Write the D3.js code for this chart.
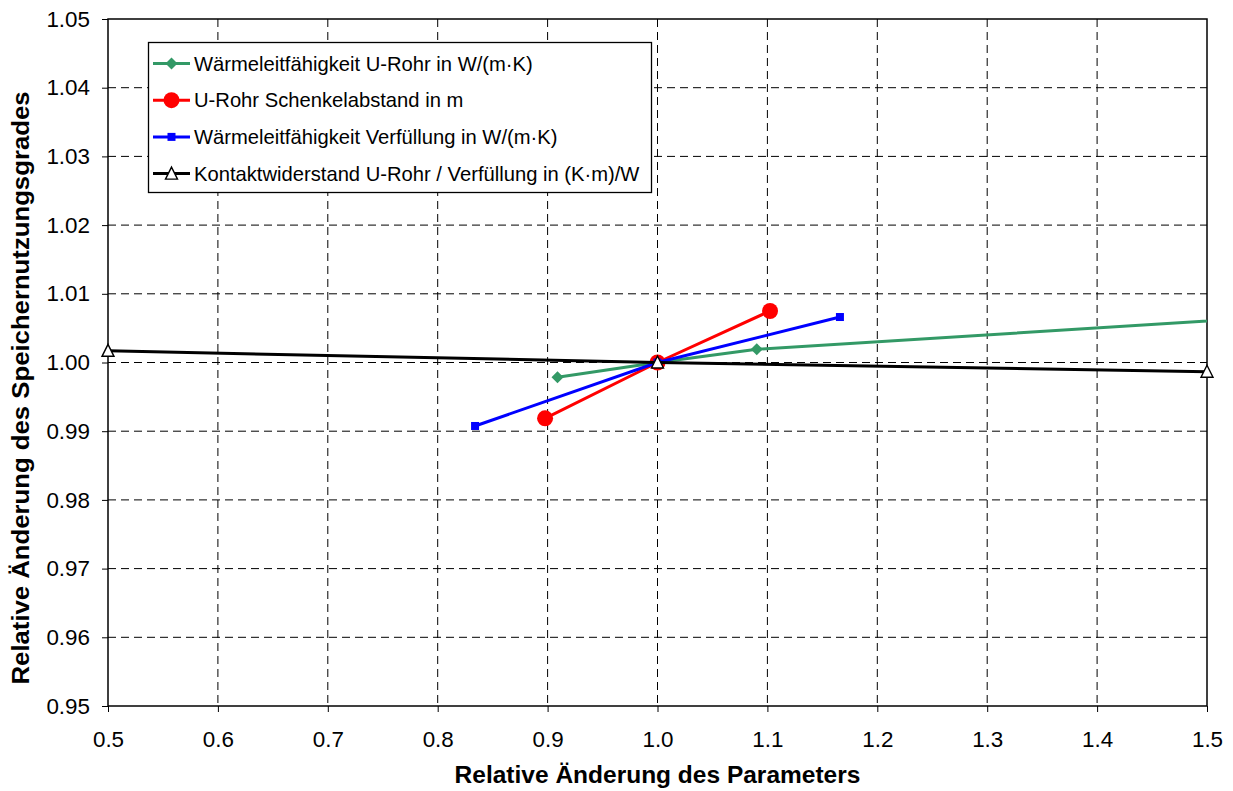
<!DOCTYPE html>
<html>
<head>
<meta charset="utf-8">
<script src="https://cdn.jsdelivr.net/npm/d3@7"></script>
<style>
  body { margin: 0; background: #fff; }
  svg { font-family: "Liberation Sans", Arial, sans-serif; }
</style>
</head>
<body>
<svg id="chart" width="1233" height="791"></svg>
<script>
// series values (x = relative change of parameter, y = relative change of storage efficiency)
const urohrX = [0.909, 1.0, 1.0903, 1.818];
const urohrY = [0.99785, 1.0, 1.00192, 1.00924];
const schenkelX = [0.8977, 1.0, 1.1024];
const schenkelY = [0.99188, 1.0, 1.0075];
const verfuellX = [0.834, 1.0, 1.166];
const verfuellY = [0.99076, 1.0, 1.00662];
const kontaktX = [0.5, 1.0, 1.5];
const kontaktY = [1.0017, 1.0, 0.99866];

const seriesNames = [
  "Wärmeleitfähigkeit U-Rohr in W/(m·K)",
  "U-Rohr Schenkelabstand in m",
  "Wärmeleitfähigkeit Verfüllung in W/(m·K)",
  "Kontaktwiderstand U-Rohr / Verfüllung in (K·m)/W"
];
const xTicks = [0.5, 0.6, 0.7, 0.8, 0.9, 1.0, 1.1, 1.2, 1.3, 1.4, 1.5];
const yTicks = [0.95, 0.96, 0.97, 0.98, 0.99, 1.00, 1.01, 1.02, 1.03, 1.04, 1.05];

const series = [
  { name: seriesNames[0], xs: urohrX, ys: urohrY, color: "#339966", marker: "diamond" },
  { name: seriesNames[1], xs: schenkelX, ys: schenkelY, color: "#ff0000", marker: "circle" },
  { name: seriesNames[2], xs: verfuellX, ys: verfuellY, color: "#0000ff", marker: "square" },
  { name: seriesNames[3], xs: kontaktX, ys: kontaktY, color: "#000000", marker: "triangle" }
];

const pLeft = 108, pRight = 1207, pTop = 19, pBottom = 706;
const svg = d3.select("#chart");

const x = d3.scaleLinear().domain([0.5, 1.5]).range([pLeft, pRight]);
const y = d3.scaleLinear().domain([0.95, 1.05]).range([pBottom, pTop]);

// grid
svg.append("g").selectAll("line")
  .data(xTicks.slice(1, -1)).enter().append("line")
  .attr("x1", d => x(d)).attr("x2", d => x(d))
  .attr("y1", pTop).attr("y2", pBottom)
  .attr("stroke", "#000").attr("stroke-width", 1).attr("stroke-dasharray", "8,5");
svg.append("g").selectAll("line")
  .data(yTicks.slice(1, -1)).enter().append("line")
  .attr("x1", pLeft).attr("x2", pRight)
  .attr("y1", d => y(d)).attr("y2", d => y(d))
  .attr("stroke", "#000").attr("stroke-width", 1).attr("stroke-dasharray", "8,5");

// axes
const xAxis = svg.append("g")
  .attr("transform", "translate(0," + pBottom + ")")
  .call(d3.axisBottom(x).tickValues(xTicks).tickFormat(d3.format(".1f")).tickSizeInner(6).tickSizeOuter(0).tickPadding(19));
const yAxis = svg.append("g")
  .attr("transform", "translate(" + pLeft + ",0)")
  .call(d3.axisLeft(y).tickValues(yTicks).tickFormat(d3.format(".2f")).tickSizeInner(6).tickSizeOuter(0).tickPadding(12));
[xAxis, yAxis].forEach(a => {
  a.select(".domain").remove();
  a.selectAll("line").attr("stroke", "#000");
  a.selectAll("text").attr("font-size", "22.4px").attr("fill", "#000")
    .attr("font-family", "Liberation Sans, Arial, sans-serif");
});

// plot border
svg.append("rect")
  .attr("x", pLeft).attr("y", pTop).attr("width", pRight - pLeft).attr("height", pBottom - pTop)
  .attr("fill", "none").attr("stroke", "#000").attr("stroke-width", 1.5);

svg.append("clipPath").attr("id", "plotclip").append("rect")
  .attr("x", pLeft).attr("y", pTop).attr("width", pRight - pLeft).attr("height", pBottom - pTop);

function drawMarker(g, type, cx, cy, color) {
  if (type === "diamond") {
    g.append("path")
      .attr("d", `M${cx},${cy - 6}L${cx + 6},${cy}L${cx},${cy + 6}L${cx - 6},${cy}Z`)
      .attr("fill", color);
  } else if (type === "circle") {
    g.append("circle").attr("cx", cx).attr("cy", cy).attr("r", 8).attr("fill", color);
  } else if (type === "square") {
    g.append("rect").attr("x", cx - 4).attr("y", cy - 4).attr("width", 8).attr("height", 8).attr("fill", color);
  } else if (type === "triangle") {
    g.append("path")
      .attr("d", `M${cx},${cy - 6.5}L${cx + 6},${cy + 5.5}L${cx - 6},${cy + 5.5}Z`)
      .attr("fill", "#fff").attr("stroke", "#000").attr("stroke-width", 1.4);
  }
}

const line = d3.line().x(d => x(d[0])).y(d => y(d[1]));

series.forEach(s => {
  const pts = s.xs.map((v, i) => [v, s.ys[i]]);
  svg.append("path")
    .attr("clip-path", "url(#plotclip)")
    .attr("d", line(pts))
    .attr("fill", "none").attr("stroke", s.color).attr("stroke-width", 3);
  const mg = svg.append("g");
  pts.filter(p => p[0] >= 0.5 && p[0] <= 1.5)
    .forEach(p => drawMarker(mg, s.marker, x(p[0]), y(p[1]), s.color));
});

// legend
const lg = svg.append("g");
lg.append("rect").attr("x", 148.5).attr("y", 42.5).attr("width", 503).attr("height", 150)
  .attr("fill", "#fff").attr("stroke", "#000").attr("stroke-width", 1.3);
series.forEach((s, i) => {
  const ly = 63.5 + i * 36.7;
  lg.append("line").attr("x1", 153).attr("x2", 190).attr("y1", ly).attr("y2", ly)
    .attr("stroke", s.color).attr("stroke-width", 3);
  drawMarker(lg, s.marker, 171.5, ly, s.color);
  lg.append("text").attr("x", 194).attr("y", ly).attr("dy", "0.36em")
    .attr("font-size", "20.2px").attr("fill", "#000").text(s.name);
});

// axis titles
svg.append("text").attr("x", (pLeft + pRight) / 2).attr("y", 783)
  .attr("text-anchor", "middle").attr("font-size", "24.5px").attr("font-weight", "bold")
  .text("Relative Änderung des Parameters");
svg.append("text")
  .attr("transform", "translate(29,388) rotate(-90) scale(1.05,1)")
  .attr("text-anchor", "middle").attr("font-size", "24.5px").attr("font-weight", "bold")
  .text("Relative Änderung des Speichernutzungsgrades");
</script>
</body>
</html>
